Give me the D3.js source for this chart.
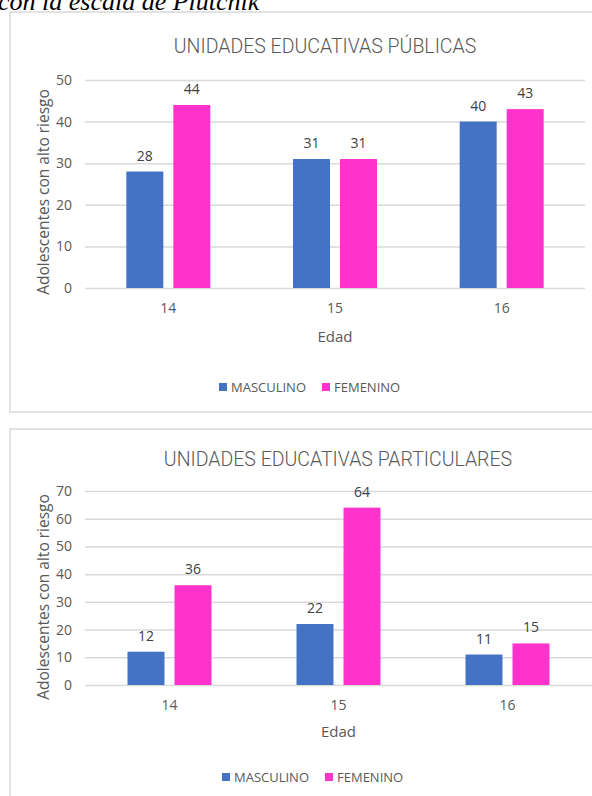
<!DOCTYPE html>
<html>
<head>
<meta charset="utf-8">
<script src="https://cdn.jsdelivr.net/npm/d3@7"></script>
<style>
  body { margin: 0; background: #fff; }
  svg { display: block; }
</style>
</head>
<body>
<svg width="592" height="796"></svg>
<script>
var edades = ['14', '15', '16'];
var series = ['MASCULINO', 'FEMENINO'];
var publicasMasc = [28, 31, 40];
var publicasFem = [44, 31, 43];
var particularesMasc = [12, 22, 11];
var particularesFem = [36, 64, 15];
var ticksPublicas = [0, 10, 20, 30, 40, 50];
var ticksParticulares = [0, 10, 20, 30, 40, 50, 60, 70];

var colors = { MASCULINO: '#4472c4', FEMENINO: '#ff33cc' };
var textGray = '#595959';
var font = '"Open Sans", "Noto Sans", sans-serif';

var svg = d3.select('svg');

// caption line of the page above, cut by the top edge as in the screenshot
svg.append('text')
    .attr('x', -2)
    .attr('y', 10)
    .attr('font-family', '"Liberation Serif", "DejaVu Serif", serif')
    .attr('font-style', 'italic')
    .attr('font-size', 26)
    .attr('fill', '#000')
    .text('con la escala de Plutchik');

function drawChart (cfg)
{
    var g = svg.append('g');

    g.append('rect')
        .attr('x', cfg.box[0])
        .attr('y', cfg.box[1])
        .attr('width', cfg.box[2])
        .attr('height', cfg.box[3])
        .attr('fill', '#fff')
        .attr('stroke', '#d9d9d9')
        .attr('stroke-width', 1.5);

    g.append('text')
        .attr('x', cfg.titleX)
        .attr('y', cfg.titleY)
        .attr('text-anchor', 'middle')
        .attr('font-family', 'Roboto, sans-serif')
        .attr('font-weight', 300)
        .attr('font-size', 19.5)
        .attr('fill', textGray)
        .text(cfg.title);

    var x0 = d3.scaleBand()
        .domain(edades)
        .range(cfg.xRange);

    var x1 = d3.scaleBand()
        .domain(series)
        .range([0, 84])
        .paddingInner(10 / 47);

    var y = d3.scaleLinear()
        .domain(cfg.yDomain)
        .range(cfg.yRange);

    // gridlines + y ticks
    var yAxis = g.append('g')
        .attr('transform', 'translate(' + cfg.xRange[0] + ',0)')
        .call(d3.axisLeft(y)
            .tickValues(cfg.ticks)
            .tickSize(-(cfg.xRange[1] - cfg.xRange[0]))
            .tickPadding(13));
    yAxis.select('.domain').remove();
    yAxis.selectAll('line').attr('stroke', '#d9d9d9').attr('stroke-width', 1.5);
    yAxis.selectAll('text')
        .attr('font-family', font)
        .attr('font-size', 14)
        .attr('fill', textGray);

    var xAxis = g.append('g')
        .attr('transform', 'translate(0,' + cfg.yRange[0] + ')')
        .call(d3.axisBottom(x0).tickSize(0).tickPadding(15));
    xAxis.select('.domain').remove();
    xAxis.selectAll('text')
        .attr('font-family', font)
        .attr('font-size', 14)
        .attr('fill', textGray);

    var rows = edades.map(function (e, i) {
        return { edad: e, values: [
            { key: 'MASCULINO', value: cfg.masc[i] },
            { key: 'FEMENINO', value: cfg.fem[i] }
        ] };
    });

    var groups = g.append('g').selectAll('g')
        .data(rows)
      .enter().append('g')
        .attr('transform', function (d) {
            return 'translate(' + (x0(d.edad) + x0.bandwidth() / 2 - 42) + ',0)';
        });

    groups.selectAll('rect')
        .data(function (d) { return d.values; })
      .enter().append('rect')
        .attr('x', function (d) { return x1(d.key); })
        .attr('y', function (d) { return y(d.value); })
        .attr('width', x1.bandwidth())
        .attr('height', function (d) { return y(0) - y(d.value); })
        .attr('fill', function (d) { return colors[d.key]; });

    groups.selectAll('text')
        .data(function (d) { return d.values; })
      .enter().append('text')
        .attr('x', function (d) { return x1(d.key) + x1.bandwidth() / 2; })
        .attr('y', function (d) { return y(d.value) - 11; })
        .attr('text-anchor', 'middle')
        .attr('font-family', font)
        .attr('font-size', 14)
        .attr('fill', '#404040')
        .text(function (d) { return d.value; });

    g.append('text')
        .attr('x', (cfg.xRange[0] + cfg.xRange[1]) / 2)
        .attr('y', cfg.edadY)
        .attr('text-anchor', 'middle')
        .attr('font-family', font)
        .attr('font-size', 15)
        .attr('fill', textGray)
        .text('Edad');

    g.append('text')
        .attr('transform', 'translate(' + 49 + ',' + cfg.yLabelY + ') rotate(-90)')
        .attr('text-anchor', 'middle')
        .attr('font-family', font)
        .attr('font-size', 15.5)
        .attr('fill', textGray)
        .text('Adolescentes con alto riesgo');

    var legend = g.append('g')
        .attr('transform', 'translate(' + cfg.legendX + ',' + cfg.legendY + ')');
    var items = legend.selectAll('g')
        .data(series)
      .enter().append('g')
        .attr('transform', function (d, i) { return 'translate(' + (i * 103) + ',0)'; });
    items.append('rect')
        .attr('x', 0).attr('y', -4)
        .attr('width', 8).attr('height', 8)
        .attr('fill', function (d) { return colors[d]; });
    items.append('text')
        .attr('x', 12)
        .attr('y', 5)
        .attr('font-family', font)
        .attr('font-size', 13)
        .attr('fill', textGray)
        .text(function (d) { return d; });
}

drawChart({
    box: [10, 12, 620, 400],
    title: 'UNIDADES EDUCATIVAS PÚBLICAS',
    titleX: 325, titleY: 53,
    xRange: [85, 585],
    yDomain: [0, 50], yRange: [288, 80],
    ticks: ticksPublicas,
    masc: publicasMasc, fem: publicasFem,
    edadY: 342, yLabelY: 192,
    legendX: 219, legendY: 387
});

drawChart({
    box: [10, 429, 620, 400],
    title: 'UNIDADES EDUCATIVAS PARTICULARES',
    titleX: 338, titleY: 466,
    xRange: [85, 592],
    yDomain: [0, 70], yRange: [685, 491],
    ticks: ticksParticulares,
    masc: particularesMasc, fem: particularesFem,
    edadY: 737, yLabelY: 597,
    legendX: 222, legendY: 777
});
</script>
</body>
</html>
